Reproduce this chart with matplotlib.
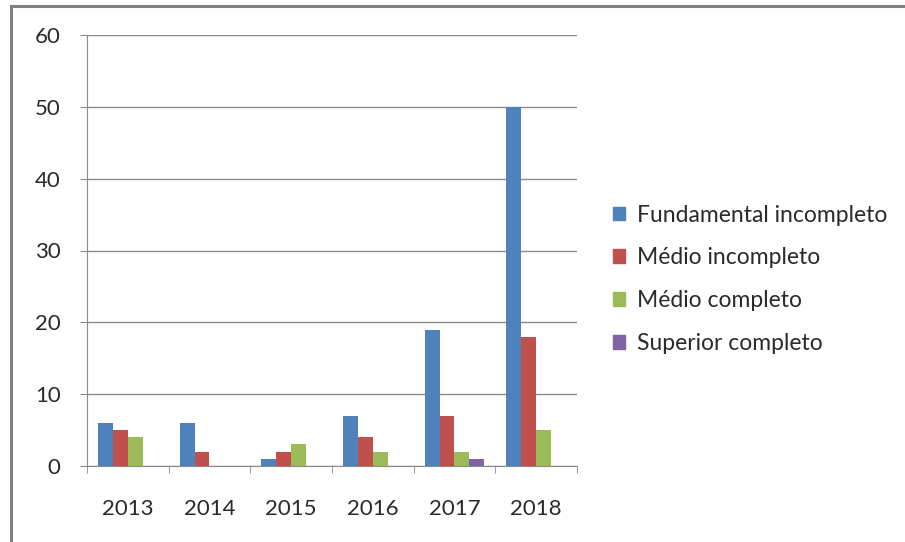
import matplotlib
matplotlib.use("Agg")
import matplotlib.pyplot as plt
import numpy as np
from matplotlib.patches import Rectangle

years = ["2013", "2014", "2015", "2016", "2017", "2018"]
series = ["Fundamental incompleto", "Médio incompleto", "Médio completo", "Superior completo"]
fundamental_inc = [6, 6, 1, 7, 19, 50]
medio_inc = [5, 2, 2, 4, 7, 18]
medio_comp = [4, 0, 3, 2, 2, 5]
superior_comp = [0, 0, 0, 0, 1, 0]
colors = ["#4F81BD", "#C0504D", "#9BBB59", "#8064A2"]

plt.rcParams["font.family"] = ["Lato", "DejaVu Sans"]

fig = plt.figure(figsize=(9.05, 5.42), dpi=100)
ax = fig.add_axes([87 / 905, 76 / 542, 490 / 905, 431 / 542])

x = np.arange(len(years))
w = 1 / 5.5
values = [fundamental_inc, medio_inc, medio_comp, superior_comp]
for i, (vals, name, c) in enumerate(zip(values, series, colors)):
    ax.bar(x - 1.5 * w + i * w, vals, width=w, color=c, label=name, zorder=3)

ax.set_xlim(-0.5, len(years) - 0.5)
ax.set_ylim(0, 60)
ax.set_yticks(range(0, 61, 10))
ax.grid(axis="y", color="#8a8a8a", linewidth=1, zorder=0)
ax.set_xticks(x)
ax.set_xticklabels(years)
ax.set_xticks(np.arange(-0.5, len(years)), minor=True)
ax.tick_params(axis="x", which="major", length=0, pad=24, labelsize=16, labelcolor="#2a2a2a")
ax.tick_params(axis="x", which="minor", length=5, color="#8a8a8a")
ax.tick_params(axis="y", length=5, color="#8a8a8a", pad=14, labelsize=16, labelcolor="#2a2a2a")
for s in ["top", "right"]:
    ax.spines[s].set_visible(False)
ax.spines["left"].set_color("#8a8a8a")
ax.spines["bottom"].set_color("#8a8a8a")

handles = [Rectangle((0, 0), 1, 1, color=c) for c in colors]
fig.legend(handles, series, loc="upper left", bbox_to_anchor=(592 / 905, 1 - 184 / 542),
           frameon=False, fontsize=16.5, labelspacing=0.95, handlelength=0.55,
           handleheight=0.55, handletextpad=0.5, labelcolor="#2a2a2a")

fig.add_artist(Rectangle((11 / 905, -0.1), 1.2, 1 - 6 / 542 + 0.1, transform=fig.transFigure,
                         fill=False, edgecolor="#808080", linewidth=2.2))

fig.savefig("out.png", dpi=100)
